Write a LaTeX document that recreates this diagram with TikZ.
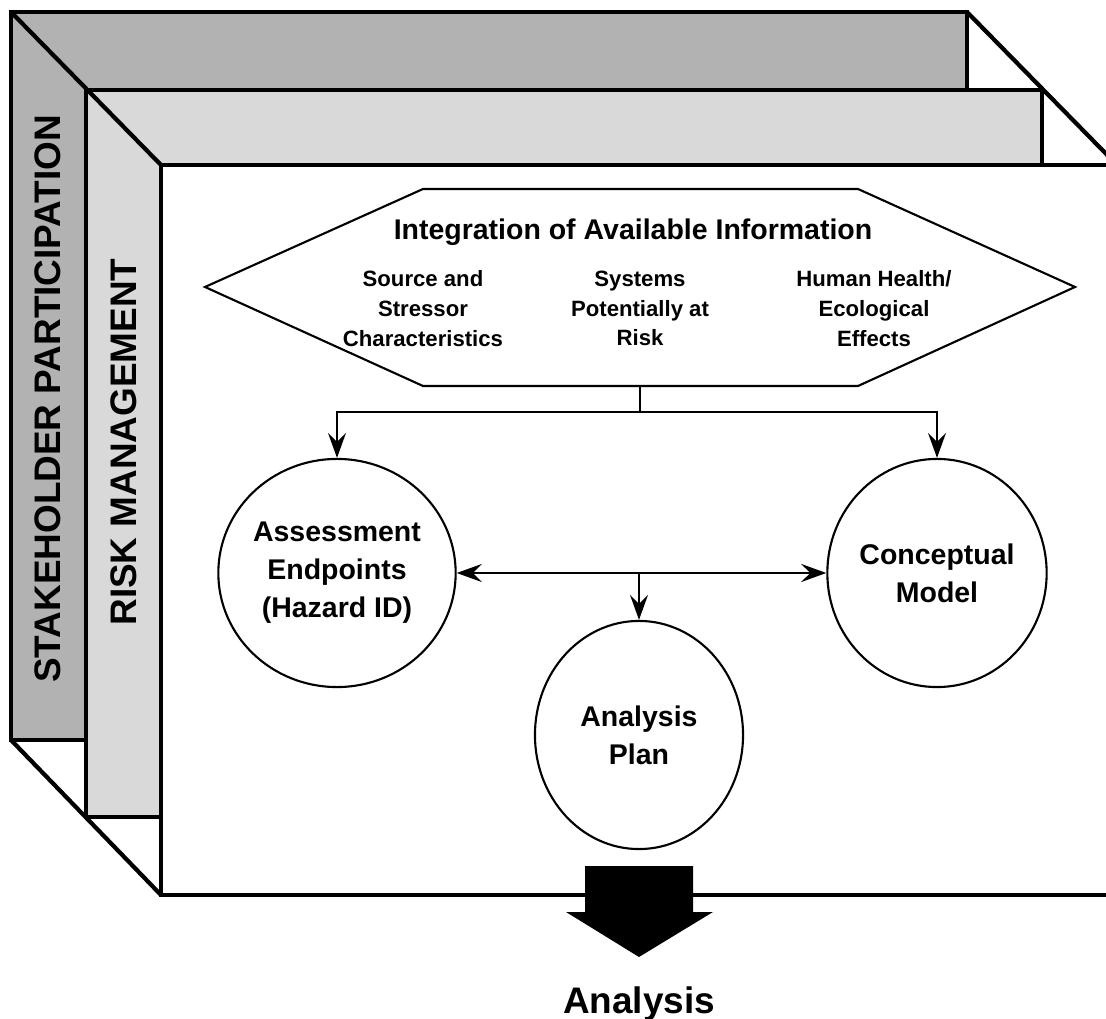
\documentclass[tikz,border=0pt]{standalone}
\usepackage{fontspec}
\setmainfont{Liberation Sans}
\usetikzlibrary{arrows.meta,shapes.geometric}
\tikzset{
	panel/.style={line width=1.2pt},
	thin line/.style={line width=0.6pt},
	bubble/.style={draw, thin line, ellipse, minimum width=2.08cm, minimum height=2.28cm, inner sep=0pt, align=center, font=\fontsize{8.1}{10.8}\selectfont\bfseries},
	sidelabel/.style={rotate=90, font=\fontsize{10.5}{12}\selectfont\bfseries},
	sublabel/.style={anchor=north, inner sep=0pt, align=center, font=\fontsize{6.3}{8.5}\selectfont\bfseries},
}

\begin{document}
\begin{tikzpicture}[x=0.01cm, y=-0.01cm, >={Stealth[length=2.5mm, width=1.8mm, inset=0.9mm]}]
		%%%%% START %%%%%
		\useasboundingbox (0, 0) rectangle (1106, 1019);
		\clip (0, 0) rectangle (1106, 1019);
		
		\draw[panel, fill=black!30] (11, 12) rectangle (967, 740);
		\draw[panel, fill=black!15] (86, 90) rectangle (1042, 817);
		\draw[panel, fill=white] (161, 165) rectangle (1117, 895);
		\draw[panel] (11, 12) -- (161, 165);
		\draw[panel] (11, 740) -- (161, 895);
		\draw[panel] (967, 12) -- (1117, 165);
		
		\node[sidelabel] (stake) at (48, 399) {STAKEHOLDER PARTICIPATION};
		\node[sidelabel] (risk) at (124, 442) {RISK MANAGEMENT};
		
		\draw[thin line, fill=white] (205, 287) -- (423, 189) -- (858, 189) -- (1075, 287) -- (858, 386) -- (423, 386) -- cycle;
		\coordinate (hexS) at (640, 386);
		\node[anchor=base, font=\fontsize{8.1}{10}\selectfont\bfseries] (title) at (633, 240) {Integration of Available Information};
		\node[sublabel] (source) at (423, 270) {Source and\\Stressor\\Characteristics};
		\node[sublabel] (systems) at (640, 270) {Systems\\Potentially at\\Risk};
		\node[sublabel] (effects) at (874, 270) {Human Health/\\Ecological\\Effects};
		
		\node[bubble] (assess) at (337, 573) {Assessment\\Endpoints\\(Hazard ID)};
		\node[bubble] (concept) at (937, 573) {Conceptual\\Model};
		\node[bubble] (plan) at (639, 735) {Analysis\\Plan};
		
		\coordinate (split) at (640, 412);
		\coordinate (mid) at (639, 573);
		\draw[thin line] (hexS) -- (split);
		\draw[thin line, ->] (split) -| (assess);
		\draw[thin line, ->] (split) -| (concept);
		\draw[thin line, <->] (assess) -- (concept);
		\draw[thin line, ->] (mid) -- (plan);
		
		\fill (585, 866) -- (693, 866) -- (693, 912) -- (713, 912) -- (639, 957) -- (566, 912) -- (585, 912) -- cycle;
		\node[anchor=base, font=\fontsize{10.5}{12}\selectfont\bfseries] (analysis) at (639, 1013) {Analysis};
		%%%%% END %%%%%
\end{tikzpicture}
\end{document}
